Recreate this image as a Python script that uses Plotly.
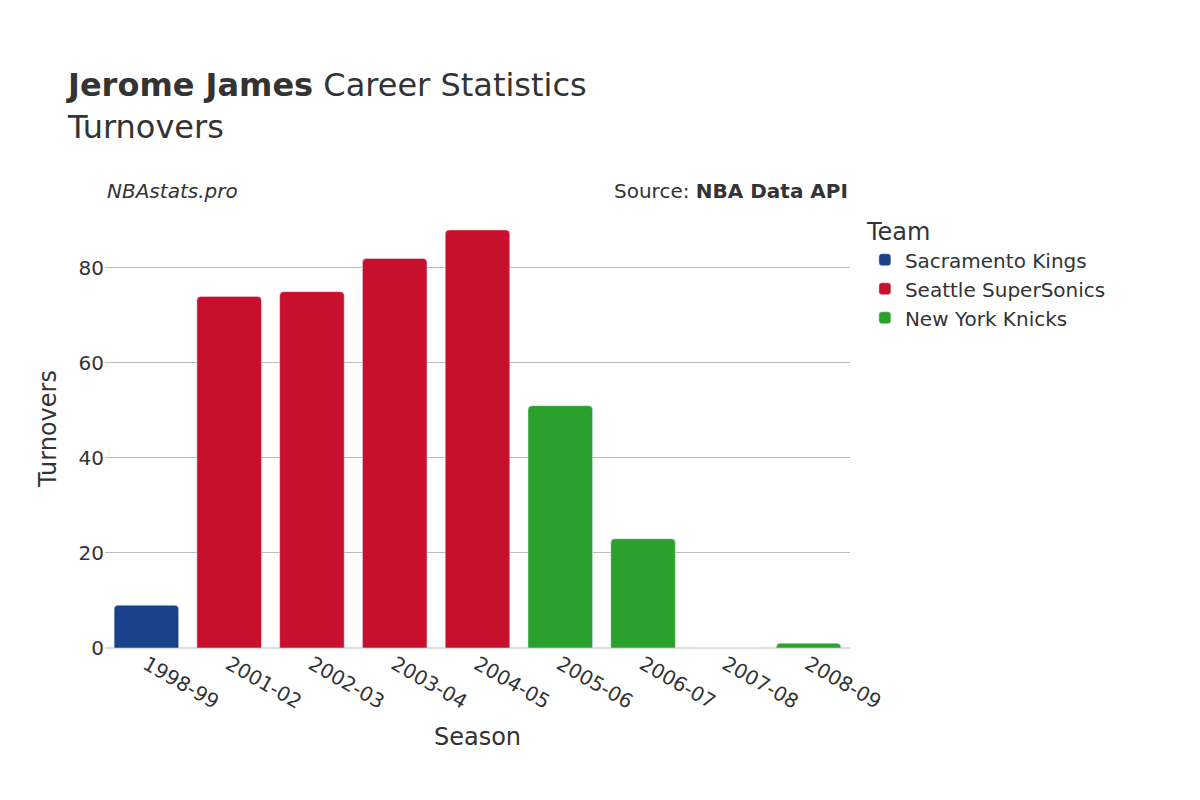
import plotly.graph_objects as go

seasons = ["1998-99","2001-02","2002-03","2003-04","2004-05","2005-06","2006-07","2007-08","2008-09"]
teams = ["Sacramento Kings","Seattle SuperSonics","Seattle SuperSonics","Seattle SuperSonics","Seattle SuperSonics","New York Knicks","New York Knicks","New York Knicks","New York Knicks"]
turnovers = [9, 74, 75, 82, 88, 51, 23, 0, 1]
team_order = ["Sacramento Kings","Seattle SuperSonics","New York Knicks"]
colors = {"Sacramento Kings":"#1a428a","Seattle SuperSonics":"#c8102e","New York Knicks":"#2ca02c"}

fig = go.Figure()
for t in team_order:
    xs = [s for s, tt in zip(seasons, teams) if tt == t]
    ys = [v for v, tt in zip(turnovers, teams) if tt == t]
    fig.add_trace(go.Bar(x=xs, y=ys, name=t, marker=dict(color=colors[t], cornerradius=4)))

fig.update_layout(
    width=1200, height=800,
    font=dict(family="DejaVu Sans", size=20, color="#333"),
    plot_bgcolor="white", paper_bgcolor="white",
    margin=dict(l=97, r=358, t=201, b=160),
    bargap=0.22,
    title=dict(text="<b>Jerome James</b> Career Statistics<br>Turnovers", x=0.05, xanchor="left", y=0.89, yanchor="bottom", font=dict(size=32)),
    xaxis=dict(title=dict(text="Season", font=dict(size=24)), categoryorder="array", categoryarray=seasons, tickangle=30),
    yaxis=dict(title=dict(text="Turnovers", font=dict(size=24)), range=[0, 92.4], gridcolor="#bbb", tickvals=[0,20,40,60,80], zeroline=True, zerolinecolor="#ddd"),
    legend=dict(title=dict(text="Team", font=dict(size=24)), x=1.02, y=1.0, yanchor="top", font=dict(size=20)),
    annotations=[
        dict(text="<i>NBAstats.pro</i>", xref="paper", yref="paper", x=0, y=1.01, xanchor="left", yanchor="bottom", showarrow=False, font=dict(size=20)),
        dict(text="Source: <b>NBA Data API</b>", xref="paper", yref="paper", x=1, y=1.01, xanchor="right", yanchor="bottom", showarrow=False, font=dict(size=20)),
    ],
)
fig.write_html("out.html")
